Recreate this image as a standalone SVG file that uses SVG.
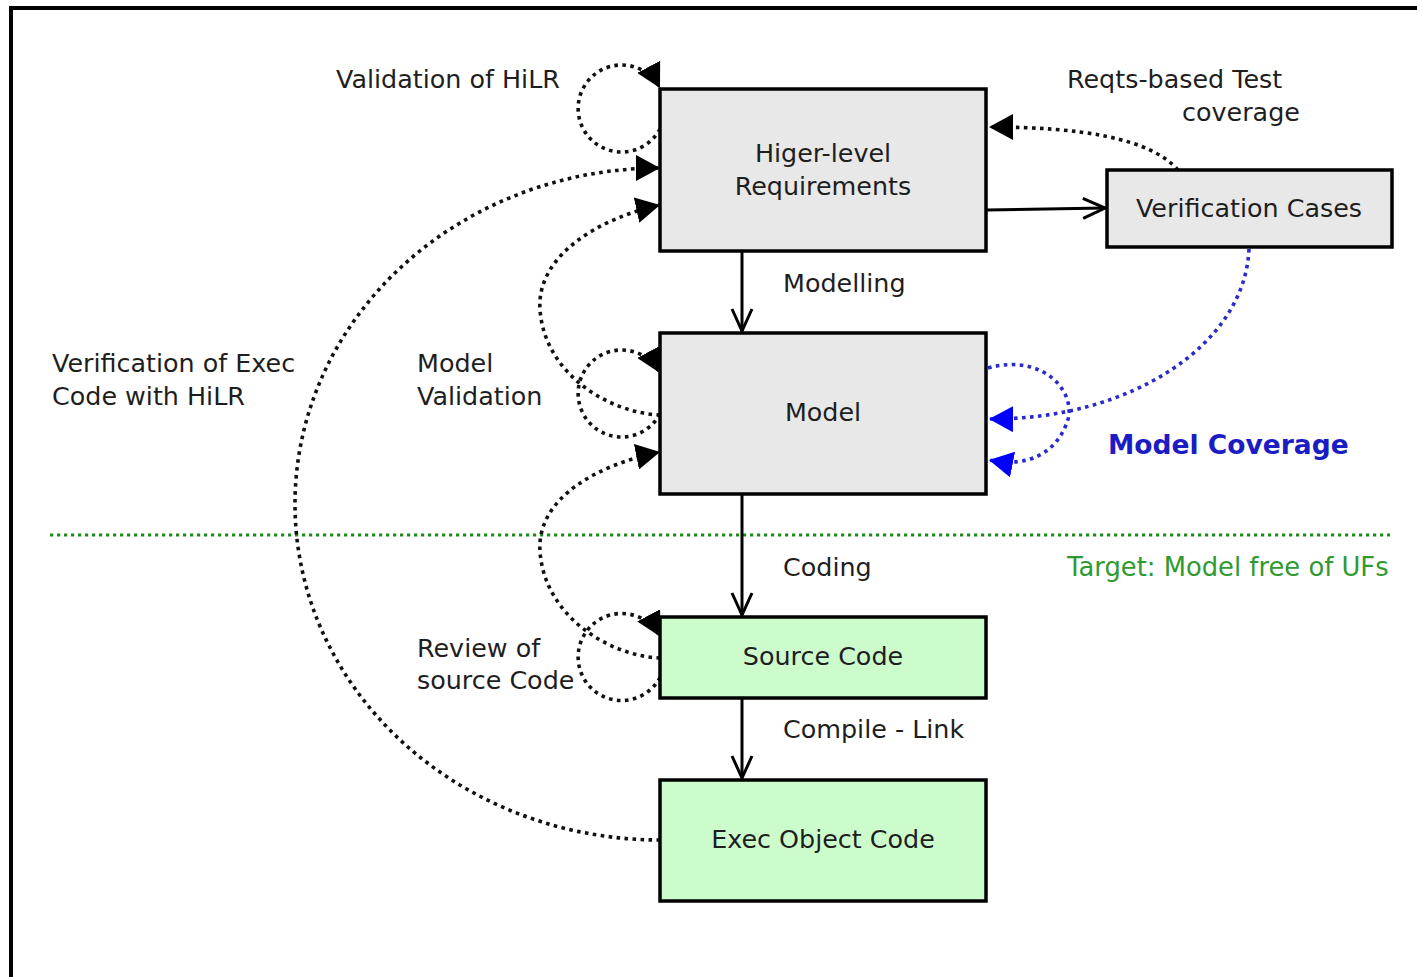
<svg xmlns="http://www.w3.org/2000/svg" width="1417" height="977" viewBox="0 0 1417 977">
  <style>
    text { font-family: "DejaVu Sans", "Liberation Sans", sans-serif; font-size: 25.4px; fill: #1e1e1e; }
    .mid { text-anchor: middle; }
    .box { stroke: #000; stroke-width: 3.5; }
    .req { fill: #e8e8e8; }
    .code { fill: #ccfccc; }
    .flow { fill: none; stroke: #000; stroke-width: 3; }
    .dot { fill: none; stroke: #111; stroke-width: 3.6; stroke-dasharray: 3.6 4.4; }
    .dot-blue { fill: none; stroke: #2a2acc; stroke-width: 3.6; stroke-dasharray: 3.6 4.4; }
    .cov { fill: #1c1cc4; font-weight: bold; font-size: 26.5px; }
    .target { fill: #2f9a2f; font-size: 25.8px; }
  </style>
  <defs>
    <marker id="tri" markerUnits="userSpaceOnUse" viewBox="0 0 24 26" markerWidth="24" markerHeight="26" refX="24" refY="13" orient="auto">
      <path d="M0,0 L24,13 L0,26 Z" fill="#000"/>
    </marker>
    <marker id="tri-blue" markerUnits="userSpaceOnUse" viewBox="0 0 24 26" markerWidth="24" markerHeight="26" refX="24" refY="13" orient="auto">
      <path d="M0,0 L24,13 L0,26 Z" fill="#0000ff"/>
    </marker>
    <marker id="vee" markerUnits="userSpaceOnUse" viewBox="-2 -2 26 24" markerWidth="26" markerHeight="24" refX="22" refY="10" orient="auto">
      <path d="M0,0 L22,10 L0,20" fill="none" stroke="#000" stroke-width="3"/>
    </marker>
  </defs>

  <rect width="1417" height="977" fill="#fff"/>
  <!-- frame -->
  <path d="M11,977 V8 H1417" fill="none" stroke="#000" stroke-width="4"/>

  <!-- phase boundary -->
  <g id="target-line">
    <path d="M50,535 H1390" fill="none" stroke="#1e8a1e" stroke-width="3.2" stroke-dasharray="3.2 3.8"/>
    <text class="target" x="1067" y="576">Target: Model free of UFs</text>
  </g>

  <g id="connectors">
    <!-- development flow -->
    <path class="flow" d="M742,252 V331" marker-end="url(#vee)"/>
    <path class="flow" d="M742,495 V615" marker-end="url(#vee)"/>
    <path class="flow" d="M742,699 V778" marker-end="url(#vee)"/>
    <path class="flow" d="M987,210 L1105,208" marker-end="url(#vee)"/>

    <!-- reviews and validations -->
    <path class="dot" d="M660,129 A43.5,43.5 0 1 1 660,88" marker-end="url(#tri)"/>
    <path class="dot" d="M660,840 A365,336 0 0 1 295,504 A365,336 0 0 1 660,168" marker-end="url(#tri)"/>
    <path class="dot" d="M660,415 C610,413 545,375 540,310 C536,255 600,218 660,205" marker-end="url(#tri)"/>
    <path class="dot" d="M660,414 A43.5,43.5 0 1 1 660,373" marker-end="url(#tri)"/>
    <path class="dot" d="M660,658 C610,656 545,617 540,552 C536,497 600,464 660,452" marker-end="url(#tri)"/>
    <path class="dot" d="M660,677.5 A43.5,43.5 0 1 1 660,636.5" marker-end="url(#tri)"/>
    <path class="dot" d="M1178,170 C1150,138 1080,127 989,127" marker-end="url(#tri)"/>

    <!-- model coverage -->
    <path class="dot-blue" d="M1249,249 C1245,345 1130,420 989,419" marker-end="url(#tri-blue)"/>
    <path class="dot-blue" d="M988,368 C1045,352 1080,395 1066,425 C1055,452 1030,468 989,460" marker-end="url(#tri-blue)"/>
  </g>

  <g id="hilr">
    <rect class="box req" x="660" y="89" width="326" height="162"/>
    <text class="mid" x="823" y="162">Higer-level</text>
    <text class="mid" x="823" y="195">Requirements</text>
  </g>

  <g id="verification-cases">
    <rect class="box req" x="1107" y="170" width="285" height="77"/>
    <text class="mid" x="1249" y="217">Verification Cases</text>
  </g>

  <g id="model">
    <rect class="box req" x="660" y="333" width="326" height="161"/>
    <text class="mid" x="823" y="421">Model</text>
  </g>

  <g id="source-code">
    <rect class="box code" x="660" y="617" width="326" height="81"/>
    <text class="mid" x="823" y="665">Source Code</text>
  </g>

  <g id="exec-object-code">
    <rect class="box code" x="660" y="780" width="326" height="121"/>
    <text class="mid" x="823" y="848">Exec Object Code</text>
  </g>

  <g id="labels">
    <text x="336" y="88">Validation of HiLR</text>
    <text x="1067" y="88">Reqts-based Test</text>
    <text x="1182" y="121">coverage</text>
    <text x="783" y="292">Modelling</text>
    <text x="52" y="372">Verification of Exec</text>
    <text x="52" y="405">Code with HiLR</text>
    <text x="417" y="372">Model</text>
    <text x="417" y="405">Validation</text>
    <text class="cov" x="1108" y="454">Model Coverage</text>
    <text x="783" y="576">Coding</text>
    <text x="417" y="657">Review of</text>
    <text x="417" y="689">source Code</text>
    <text x="783" y="738">Compile - Link</text>
  </g>
</svg>
